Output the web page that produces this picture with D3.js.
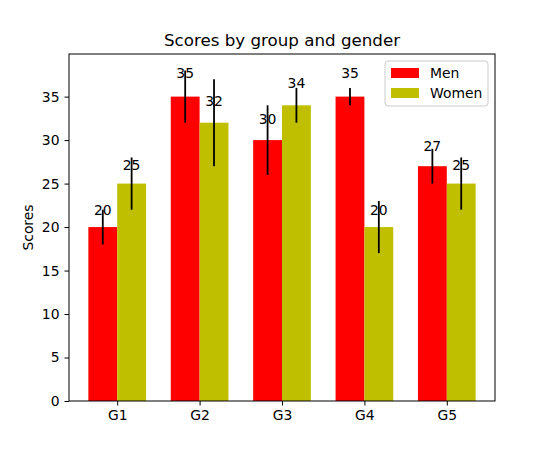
<!DOCTYPE html>
<html>
<head>
<meta charset="utf-8">
<script src="https://cdn.jsdelivr.net/npm/d3@7"></script>
<style>
  body { margin: 0; background: #fff; }
  text { font-family: "DejaVu Sans", sans-serif; }
</style>
</head>
<body>
<div id="viz-container"></div>
<script>
// data
let groups = ["G1", "G2", "G3", "G4", "G5"];
let menMeans = [20, 35, 30, 35, 27];
let menStd = [2, 3, 4, 1, 2];
let womenMeans = [25, 32, 34, 20, 25];
let womenStd = [3, 5, 2, 3, 3];
let yTicks = [0, 5, 10, 15, 20, 25, 30, 35];

let width = 550, height = 450;
let axLeft = 69, axRight = 495, axTop = 54, axBottom = 401;
let barWidth = 0.35;
let fontSize = "13.9px";

let series = [
  { name: "Men", means: menMeans, std: menStd, color: "#ff0000", offset: 0 },
  { name: "Women", means: womenMeans, std: womenStd, color: "#bfbf00", offset: barWidth }
];

let x = d3.scaleLinear().domain([-0.41, 4.76]).range([axLeft, axRight]);
let y = d3.scaleLinear().domain([0, 39.9]).range([axBottom, axTop]);

let viz = d3.select("#viz-container")
  .append("svg")
    .attr("width", width)
    .attr("height", height);

// bars, error bars and labels
series.forEach(function(s){
  let g = viz.append("g").attr("class", "series");
  s.means.forEach(function(v, i){
    let cx = i + s.offset;
    g.append("rect")
      .attr("x", x(cx - barWidth / 2))
      .attr("y", y(v))
      .attr("width", x(cx + barWidth / 2) - x(cx - barWidth / 2))
      .attr("height", y(0) - y(v))
      .attr("fill", s.color);
  });
  s.means.forEach(function(v, i){
    let cx = i + s.offset;
    g.append("line")
      .attr("x1", x(cx)).attr("x2", x(cx))
      .attr("y1", y(v - s.std[i])).attr("y2", y(v + s.std[i]))
      .attr("stroke", "black")
      .attr("stroke-width", 1.8);
  });
  s.means.forEach(function(v, i){
    let cx = i + s.offset;
    g.append("text")
      .attr("x", x(cx))
      .attr("y", y(1.05 * v) - 3)
      .attr("text-anchor", "middle")
      .attr("font-size", fontSize)
      .text(v);
  });
});

// axes
let xAxis = d3.axisBottom(x)
  .tickValues(groups.map((d, i) => i + barWidth / 2))
  .tickFormat((d, i) => groups[i])
  .tickSizeOuter(0)
  .tickSize(4.5)
  .tickPadding(5);
let yAxis = d3.axisLeft(y)
  .tickValues(yTicks)
  .tickSizeOuter(0)
  .tickSize(4.5)
  .tickPadding(5);

let gx = viz.append("g")
  .attr("transform", "translate(0," + axBottom + ")")
  .call(xAxis);
let gy = viz.append("g")
  .attr("transform", "translate(" + axLeft + ",0)")
  .call(yAxis);
[gx, gy].forEach(function(a){
  a.select(".domain").remove();
  a.selectAll("text").attr("font-size", fontSize).attr("font-family", "DejaVu Sans").attr("fill", "black");
  a.selectAll("line").attr("stroke", "black").attr("stroke-width", 1);
});

// frame
viz.append("rect")
  .attr("x", axLeft).attr("y", axTop)
  .attr("width", axRight - axLeft).attr("height", axBottom - axTop)
  .attr("fill", "none")
  .attr("stroke", "black")
  .attr("stroke-width", 1);

// title and label
viz.append("text")
  .attr("x", (axLeft + axRight) / 2)
  .attr("y", axTop - 8)
  .attr("text-anchor", "middle")
  .attr("font-size", "16.7px")
  .text("Scores by group and gender");

viz.append("text")
  .attr("transform", "translate(33," + (axTop + axBottom) / 2 + ") rotate(-90)")
  .attr("text-anchor", "middle")
  .attr("font-size", fontSize)
  .text("Scores");

// legend
let legend = viz.append("g").attr("transform", "translate(385,61)");
legend.append("rect")
  .attr("width", 103).attr("height", 45)
  .attr("rx", 3)
  .attr("fill", "white")
  .attr("fill-opacity", 0.8)
  .attr("stroke", "#cccccc");
series.forEach(function(s, i){
  legend.append("rect")
    .attr("x", 6).attr("y", 7 + i * 20)
    .attr("width", 28).attr("height", 10)
    .attr("fill", s.color);
  legend.append("text")
    .attr("x", 45).attr("y", 17 + i * 20)
    .attr("font-size", fontSize)
    .text(s.name);
});
</script>
</body>
</html>
